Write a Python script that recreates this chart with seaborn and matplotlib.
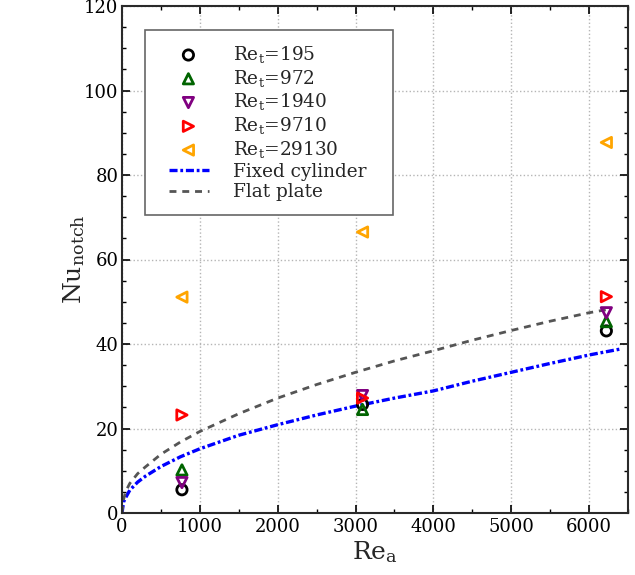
import matplotlib
matplotlib.use("Agg")
import matplotlib.pyplot as plt
import seaborn as sns
import numpy as np
import pandas as pd
from matplotlib.ticker import MultipleLocator
from matplotlib.legend_handler import HandlerLine2D, HandlerPathCollection
from matplotlib.lines import Line2D
from matplotlib.collections import PathCollection

# ---- data ----
re_a = [770, 3090, 6222]
nu_195 = [5.5, 25.7, 43.1]
nu_972 = [10.2, 24.5, 45.3]
nu_1940 = [7.2, 27.8, 47.4]
nu_9710 = [23.2, 27.2, 51.2]
nu_29130 = [51.1, 66.5, 87.7]

series_labels = [r"Re$_\mathrm{t}$=195", r"Re$_\mathrm{t}$=972", r"Re$_\mathrm{t}$=1940",
                 r"Re$_\mathrm{t}$=9710", r"Re$_\mathrm{t}$=29130"]

cyl_x = [0, 20, 40, 100, 200, 300, 500, 750, 1000, 1500, 2000, 2500, 3000, 3500, 4000,
         4500, 5000, 5500, 6000, 6400]
cyl_y = [0, 2.6, 3.4, 5.4, 7.3, 8.7, 11.0, 13.3, 15.2, 18.4, 20.9, 23.2, 25.3, 27.2, 28.9,
         31.2, 33.3, 35.4, 37.4, 38.8]

plate_x = [0, 20, 50, 100, 200, 300, 500, 750, 1000, 1500, 2000, 2500, 3000, 3500, 4000,
           4500, 5000, 5500, 6000, 6280]
plate_y = [0, 3.2, 5.2, 7.0, 9.3, 10.9, 13.9, 16.8, 19.3, 23.5, 27.2, 30.4, 33.3, 36.0, 38.4,
           40.9, 43.2, 45.4, 47.4, 48.3]

x_ticks = [0, 1000, 2000, 3000, 4000, 5000, 6000]
y_ticks = [0, 20, 40, 60, 80, 100, 120]

sns.set_theme(style="ticks")
plt.rcParams["font.family"] = ["DejaVu Serif"]
plt.rcParams["mathtext.fontset"] = "dejavuserif"
plt.rcParams["lines.scale_dashes"] = False

fig = plt.figure(figsize=(6.35, 5.75), dpi=100)
ax = fig.add_axes([122 / 635, 1 - 513 / 575, (628 - 122) / 635, (513 - 6) / 575])

styles = [("o", "black"), ("^", "darkgreen"), ("v", "purple"), (">", "red"), ("<", "orange")]
all_vals = [nu_195, nu_972, nu_1940, nu_9710, nu_29130]
for (mk, col), vals, lab in zip(styles, all_vals, series_labels):
    df = pd.DataFrame({"Re_a": re_a, "Nu": vals})
    sns.scatterplot(data=df, x="Re_a", y="Nu", marker=mk, s=55, facecolors="none",
                    edgecolor=col, linewidth=2, label=lab, ax=ax, zorder=3)

sns.lineplot(x=cyl_x, y=cyl_y, color="blue", linestyle=(0, (5.8, 2.0, 2.0, 2.0)),
             linewidth=2.4, label="Fixed cylinder", ax=ax, zorder=2)
sns.lineplot(x=plate_x, y=plate_y, color="#555555", linestyle=(0, (5.0, 4.2)),
             linewidth=2, label="Flat plate", ax=ax, zorder=2)

ax.set_xlim(0, 6500)
ax.set_ylim(0, 120)
ax.set_xticks(x_ticks)
ax.set_yticks(y_ticks)
ax.xaxis.set_minor_locator(MultipleLocator(500))
ax.yaxis.set_minor_locator(MultipleLocator(5))
ax.tick_params(which="both", direction="in", top=True, right=True, labelsize=13,
               colors="black")
ax.tick_params(axis="y", which="both", pad=2.5)
ax.tick_params(which="major", length=6, width=1.2)
ax.tick_params(which="minor", length=3, width=1)
for sp in ax.spines.values():
    sp.set_color("#2a2a2a")
    sp.set_linewidth(1.5)
ax.grid(True, which="major", linestyle=":", color="#b5b5b5", linewidth=1)

ax.set_xlabel(r"Re$_\mathrm{a}$", fontsize=18, labelpad=2)
ax.set_ylabel(r"Nu$_\mathrm{notch}$", fontsize=18, labelpad=-2)

ax_w = 628 - 122
ax_h = 513 - 6
lx0 = (145 - 122) / ax_w
ltop = (513 - 30) / ax_h
lw = (393 - 145) / ax_w
leg = ax.legend(loc="upper left", bbox_to_anchor=(lx0, ltop - 0.4, lw, 0.4), mode="expand",
                fontsize=13.3, frameon=True, fancybox=False, edgecolor="#666666",
                framealpha=1, handlelength=2.7, labelspacing=0.15, borderpad=0.75,
                handletextpad=1.3, borderaxespad=0,
                handler_map={Line2D: HandlerLine2D(xpad=0.56),
                             PathCollection: HandlerPathCollection(xpad=0.5)})
leg.get_frame().set_linewidth(1.2)

fig.savefig("out.png", dpi=100)
